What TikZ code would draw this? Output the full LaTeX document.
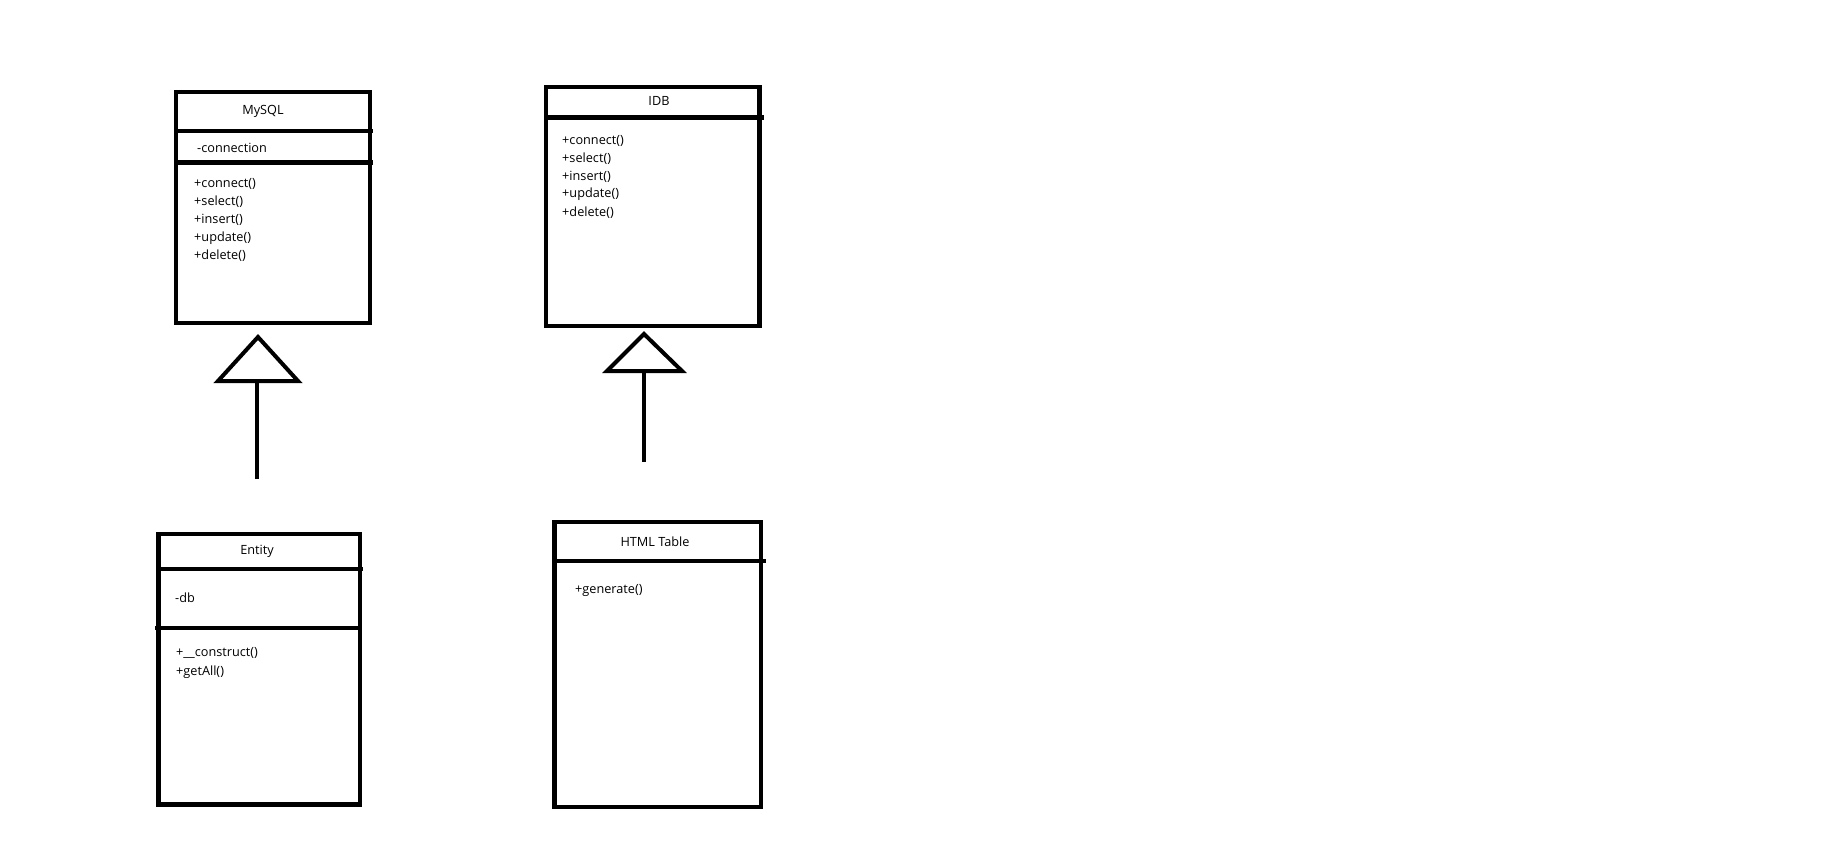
\documentclass[tikz,border=0pt]{standalone}
\usepackage{fontspec}
\setmainfont{Open Sans}
\begin{document}
\begin{tikzpicture}[x=1pt,y=-1pt,
  umlbox/.style={draw=black,line width=4.6pt,rectangle,inner sep=0pt,outer sep=0pt,anchor=north west},
  divider/.style={draw=black,line width=4.6pt},
  gentri/.style={draw=black,line width=4pt,line join=miter,fill=white},
  genline/.style={draw=black,line width=4pt},
  title/.style={font=\fontsize{12.7}{15}\selectfont,anchor=center,inner sep=0pt},
  member/.style={font=\fontsize{12.7}{15}\selectfont,anchor=west,inner sep=0pt}]
\fill[white] (0,0) rectangle (1848,860);
\useasboundingbox (0,0) rectangle (1848,860);
% MySQL
\node[umlbox,minimum width=194pt,minimum height=231pt] (mysql) at (176,92) {};
\draw[divider] (176,131) -- (373,131);
\draw[divider] (174,162.4) -- (373,162.4);
\node[title] (mysqlname) at (263,111.5) {MySQL};
\node[member] (mysqlattr) at (197,148) {-connection};
\node[member] (m1) at (194,183.7) {+connect()};
\node[member] (m2) at (194,201.7) {+select()};
\node[member] (m3) at (194,219.7) {+insert()};
\node[member] (m4) at (194,237.7) {+update()};
\node[member] (m5) at (194,255.7) {+delete()};
% IDB
\node[umlbox,minimum width=213.5pt,minimum height=239pt] (idb) at (546,87) {};
\draw[divider] (546,117.5) -- (764,117.5);
\node[title] (idbname) at (659,101.3) {IDB};
\node[member] (i1) at (562,140.8) {+connect()};
\node[member] (i2) at (562,158.7) {+select()};
\node[member] (i3) at (562,176.6) {+insert()};
\node[member] (i4) at (562,194.5) {+update()};
\node[member] (i5) at (562,212.4) {+delete()};
% Entity
\node[umlbox,minimum width=201.5pt,minimum height=270.3pt] (entity) at (158.5,534) {};
\draw[divider] (158.5,569) -- (363,569);
\draw[divider] (155,628) -- (360,628);
\node[title] (entityname) at (257,551) {Entity};
\node[member] (eattr) at (175,598) {-db};
\node[member] (e1) at (176,653) {+\_\_construct()};
\node[member] (e2) at (176,672) {+getAll()};
% HTML Table
\node[umlbox,minimum width=206.5pt,minimum height=285pt] (html) at (554.5,522) {};
\draw[divider] (554.5,561) -- (766,561);
\node[title] (htmlname) at (655,542) {HTML Table};
\node[member] (h1) at (575,590) {+generate()};
% generalization arrows
\coordinate (a1tip) at (258,337);
\coordinate (a1bl) at (218,381);
\coordinate (a1br) at (298,381);
\coordinate (a1base) at (257,381);
\coordinate (a1end) at (257,479);
\draw[genline] (a1end) -- (a1base);
\draw[gentri] (a1tip) -- (a1br) -- (a1bl) -- cycle;
\coordinate (a2tip) at (644,334);
\coordinate (a2bl) at (607,371);
\coordinate (a2br) at (682,371);
\coordinate (a2base) at (644,371);
\coordinate (a2end) at (644,462);
\draw[genline] (a2end) -- (a2base);
\draw[gentri] (a2tip) -- (a2br) -- (a2bl) -- cycle;
\end{tikzpicture}
\end{document}
